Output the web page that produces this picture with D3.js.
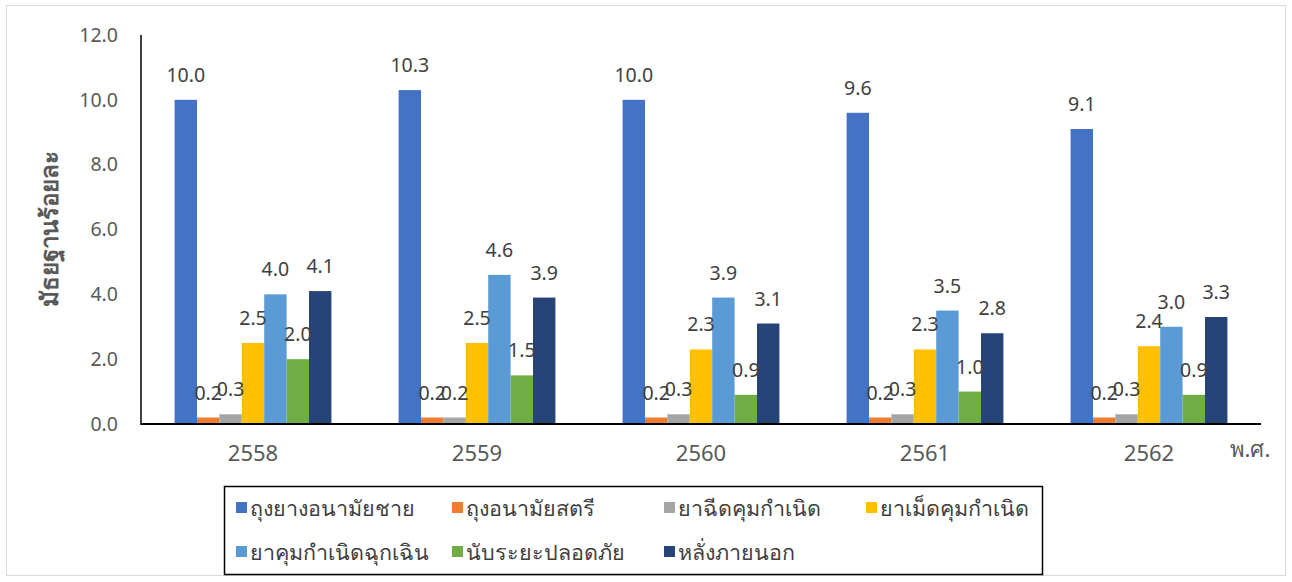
<!DOCTYPE html>
<html>
<head>
<meta charset="utf-8">
<script src="https://cdn.jsdelivr.net/npm/d3@7/dist/d3.min.js"></script>
<style>
  body { margin: 0; background: #fff; }
  svg text { font-family: "Noto Sans", "Open Sans", sans-serif; }
</style>
</head>
<body>
<svg width="1292" height="582"></svg>
<script>
const years = ["2558", "2559", "2560", "2561", "2562"];
const seriesNames = ["ถุงยางอนามัยชาย", "ถุงอนามัยสตรี", "ยาฉีดคุมกำเนิด", "ยาเม็ดคุมกำเนิด",
  "ยาคุมกำเนิดฉุกเฉิน", "นับระยะปลอดภัย", "หลั่งภายนอก"];
const colors = ["#4472C4", "#ED7D31", "#A5A5A5", "#FFC000", "#5B9BD5", "#70AD47", "#264478"];
// values per series, one per year
const maleCondom = [10.0, 10.3, 10.0, 9.6, 9.1];
const femaleCondom = [0.2, 0.2, 0.2, 0.2, 0.2];
const injection = [0.3, 0.2, 0.3, 0.3, 0.3];
const pill = [2.5, 2.5, 2.3, 2.3, 2.4];
const emergency = [4.0, 4.6, 3.9, 3.5, 3.0];
const safePeriod = [2.0, 1.5, 0.9, 1.0, 0.9];
const withdrawal = [4.1, 3.9, 3.1, 2.8, 3.3];
const yTicks = [0, 2, 4, 6, 8, 10, 12];

const series = [maleCondom, femaleCondom, injection, pill, emergency, safePeriod, withdrawal];

const svg = d3.select("svg");
const mLeft = 141, mRight = 1261, mTop = 35, mBottom = 424;

// outer frame
svg.append("rect").attr("x", 6.5).attr("y", 5.5).attr("width", 1279).attr("height", 570)
  .attr("fill", "none").attr("stroke", "#d9d9d9");

const x0 = d3.scaleBand().domain(years).range([mLeft, mRight]).paddingInner(0.3).paddingOuter(0.15);
const x1 = d3.scaleBand().domain(d3.range(seriesNames.length)).range([0, x0.bandwidth()]);
const y = d3.scaleLinear().domain([0, 12]).range([mBottom, mTop]);

// y tick labels
svg.append("g").selectAll("text").data(yTicks).join("text")
  .attr("x", 118).attr("y", d => y(d)).attr("dy", "0.35em")
  .attr("text-anchor", "end").attr("font-size", 19.5).attr("fill", "#595959")
  .text(d => d.toFixed(1));

// y title
svg.append("text").attr("transform", `translate(58,229) rotate(-90)`)
  .attr("text-anchor", "middle").attr("font-size", 24).attr("font-weight", "bold")
  .attr("fill", "#595959").text("มัธยฐานร้อยละ");

const groups = svg.append("g").selectAll("g").data(years).join("g")
  .attr("transform", d => `translate(${x0(d)},0)`);

groups.selectAll("rect").data((d, yi) => series.map((s, si) => ({ si, v: s[yi] }))).join("rect")
  .attr("x", d => x1(d.si)).attr("width", x1.bandwidth())
  .attr("y", d => y(d.v)).attr("height", d => y(0) - y(d.v))
  .attr("fill", d => colors[d.si]);

groups.selectAll("text").data((d, yi) => series.map((s, si) => ({ si, v: s[yi] }))).join("text")
  .attr("x", d => x1(d.si) + x1.bandwidth() / 2).attr("y", d => y(d.v) - 18)
  .attr("text-anchor", "middle").attr("font-size", 19.5).attr("fill", "#404040")
  .text(d => d.v.toFixed(1));

// axes lines
svg.append("line").attr("x1", mLeft).attr("x2", mLeft).attr("y1", mTop).attr("y2", mBottom + 1)
  .attr("stroke", "#000").attr("stroke-width", 1.5);
svg.append("line").attr("x1", mLeft).attr("x2", mRight).attr("y1", mBottom).attr("y2", mBottom)
  .attr("stroke", "#000").attr("stroke-width", 2);

// x labels
svg.append("g").selectAll("text").data(years).join("text")
  .attr("x", d => x0(d) + x0.bandwidth() / 2).attr("y", 461)
  .attr("text-anchor", "middle").attr("font-size", 22).attr("fill", "#595959").text(d => d);
svg.append("text").attr("x", 1250).attr("y", 457).attr("text-anchor", "middle")
  .attr("font-size", 22).attr("fill", "#595959").text("พ.ศ.");

// legend
svg.append("rect").attr("x", 224.5).attr("y", 486.5).attr("width", 818).attr("height", 88)
  .attr("fill", "none").attr("stroke", "#000").attr("stroke-width", 1.5);
const legendPos = [[236, 508], [452, 508], [664, 508], [866, 508], [236, 552], [452, 552], [664, 552]];
const leg = svg.append("g").selectAll("g").data(seriesNames).join("g")
  .attr("transform", (d, i) => `translate(${legendPos[i][0]},${legendPos[i][1]})`);
leg.append("rect").attr("x", 0).attr("y", -6).attr("width", 11).attr("height", 11)
  .attr("fill", (d, i) => colors[i]);
leg.append("text").attr("x", 14).attr("dy", "0.35em").attr("font-size", 21.5)
  .attr("fill", "#404040").text(d => d);
</script>
</body>
</html>
